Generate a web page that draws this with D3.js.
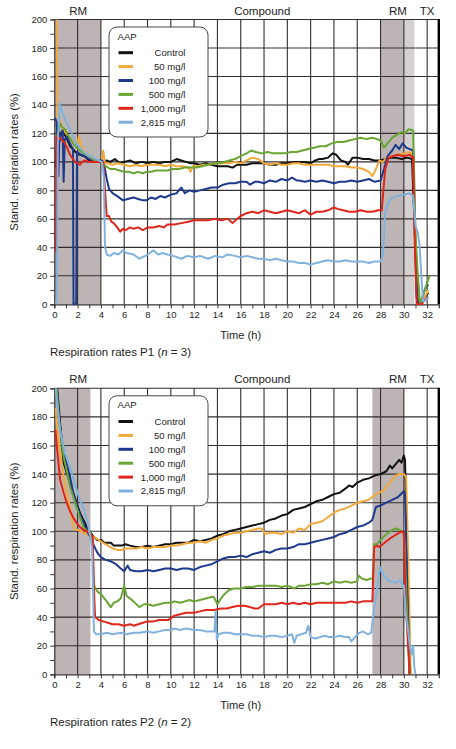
<!DOCTYPE html>
<html><head><meta charset="utf-8">
<script src="https://cdn.jsdelivr.net/npm/d3@7"></script>
<style>
body{margin:0;background:#fff;}
svg{display:block;font-family:"Liberation Sans",Arial,Helvetica,sans-serif;}
</style>
</head><body>
<svg id="chart" width="456" height="749"></svg>
<script>
// ---------- data ----------
const seriesNames = ["Control", "50 mg/l", "100 mg/l", "500 mg/l", "1,000 mg/l", "2,815 mg/l"];
const seriesColors = ["#111111", "#f2a93b", "#1d3a8c", "#68a532", "#e0261b", "#80b2dd"];
const legendTitle = "AAP";
const xTickValues = [0,2,4,6,8,10,12,14,16,18,20,22,24,26,28,30,32];
const yTickValues = [0,20,40,60,80,100,120,140,160,180,200];
const phaseLabels = ["RM", "Compound", "RM", "TX"];
const phaseLabelTimes = [2.05, 17.85, 29.5, 32.0];

// Panel P1 (n = 3)
const p1Shading = [[0, 4, 0], [28, 30, 0], [30, 30.9, 1]];
const p1Control = [[0.12,96],[0.15,101],[0.3,125],[0.5,118],[0.7,122],[0.9,119],[1.1,116],[1.35,111],[1.6,109],[1.8,107],[2.2,105],[2.6,104],[3.0,101],[3.35,100],[3.8,100],[4.2,100],[4.5,101],[4.8,100],[5.2,102],[5.6,99],[6.0,100],[6.5,101],[7.0,99],[7.5,100],[8.0,99],[8.5,100],[9.0,99],[9.5,100],[10.0,100],[10.5,102],[10.9,101],[11.3,100],[11.7,99],[12.0,99],[12.5,98],[13.0,99],[13.5,98],[14.0,97],[14.5,97],[14.9,97],[15.3,96],[15.7,98],[16.0,98],[16.5,98],[17.0,99],[17.5,99],[18.0,99],[18.5,98],[19.0,98],[19.5,99],[20.0,99],[20.5,100],[21.0,100],[21.4,100],[22.0,99],[22.4,101],[22.7,102],[23.0,102],[23.5,103],[23.9,106],[24.2,105],[24.6,101],[25.0,100],[25.2,98],[25.6,103],[26.0,103],[26.5,102],[27.0,102],[27.5,101],[28.0,101],[28.4,102],[28.8,103],[29.3,103],[29.8,102],[30.3,103],[30.7,102],[30.9,60],[31.1,5],[31.3,0],[31.6,3],[31.9,6],[32.1,8]];
const p1Aap50 = [[0.15,200],[0.2,200],[0.28,132],[0.5,128],[0.77,123],[1.0,120],[1.35,116],[1.7,114],[2.0,113],[2.1,118],[2.3,112],[2.5,108],[2.8,104],[3.1,102],[3.4,100],[3.8,100],[4.1,101],[4.2,108],[4.35,99],[4.6,99],[5.0,98],[5.5,99],[6.0,98],[6.5,97],[7.0,98],[7.5,97],[8.0,98],[8.5,98],[9.0,98],[9.5,97],[10.0,98],[10.5,97],[11.0,97],[11.5,96],[11.7,93],[11.9,97],[12.3,97],[12.8,98],[13.2,98],[13.8,99],[14.5,99],[15.0,99],[15.5,100],[16.0,99],[16.5,101],[17.0,103],[17.5,102],[18.0,99],[18.5,98],[19.0,99],[19.5,98],[20.0,98],[20.5,99],[21.0,99],[21.5,98],[22.0,98],[22.5,98],[23.0,98],[23.5,98],[24.0,97],[24.5,97],[25.0,97],[25.5,96],[26.0,96],[26.5,95],[27.0,93],[27.3,90],[27.6,95],[27.9,101],[28.2,100],[28.5,103],[29.0,104],[29.5,105],[30.0,106],[30.5,107],[30.8,104],[31.0,40],[31.2,5],[31.5,0],[31.8,5],[32.1,10]];
const p1Aap100 = [[0.06,131],[0.2,128],[0.3,110],[0.35,90],[0.42,113],[0.6,120],[0.72,122],[0.8,86],[0.9,116],[1.1,118],[1.35,113],[1.6,109],[1.65,0],[1.88,0],[1.95,107],[2.3,105],[2.6,104],[3.0,102],[3.35,100],[3.8,101],[4.1,101],[4.3,97],[4.5,88],[4.7,81],[5.0,78],[5.4,76],[5.9,73],[6.3,74],[6.8,75],[7.2,74],[7.6,73],[7.9,73],[8.3,75],[8.7,74],[9.1,76],[9.5,75],[10.0,77],[10.5,78],[10.9,82],[11.2,78],[11.6,80],[12.0,79],[12.5,80],[13.0,81],[13.5,82],[14.0,82],[14.5,84],[15.0,85],[15.5,85],[16.0,86],[16.5,86],[16.8,84],[17.2,86],[17.5,86],[18.0,85],[18.5,87],[19.0,86],[19.5,88],[20.0,87],[20.4,89],[20.8,87],[21.0,87],[21.5,86],[22.0,87],[22.5,86],[23.0,87],[23.5,86],[24.0,85],[24.5,86],[25.0,86],[25.5,87],[26.0,86],[26.5,87],[27.0,88],[27.5,86],[28.0,87],[28.3,95],[28.6,104],[29.0,108],[29.3,112],[29.6,109],[29.9,113],[30.2,110],[30.5,109],[30.8,108],[31.0,40],[31.2,0],[31.5,0],[31.7,8],[31.9,12],[32.1,14]];
const p1Aap500 = [[0.25,118],[0.5,127],[0.7,124],[0.92,123],[1.15,119],[1.35,117],[1.6,113],[1.92,110],[2.2,108],[2.5,106],[2.8,105],[3.06,104],[3.5,101],[4.1,99],[4.4,97],[4.8,95],[5.2,95],[5.6,94],[6.0,93],[6.4,93],[6.8,92],[7.2,93],[7.6,92],[7.9,93],[8.3,93],[8.7,94],[9.1,94],[9.7,94],[10.2,95],[10.7,95],[11.2,96],[11.7,96],[12.2,96],[12.7,97],[13.2,98],[13.7,99],[14.2,99],[14.6,100],[15.0,101],[15.5,102],[16.0,104],[16.5,106],[16.9,108],[17.3,107],[17.8,106],[18.3,107],[18.8,106],[19.3,106],[19.8,106],[20.3,107],[20.8,107],[21.3,108],[21.8,109],[22.3,110],[22.8,111],[23.3,111],[23.8,113],[24.3,114],[24.8,114],[25.3,115],[25.8,116],[26.3,117],[26.8,116],[27.3,117],[27.7,116],[28.0,115],[28.3,110],[28.6,113],[29.0,117],[29.4,119],[29.8,121],[30.1,120],[30.4,123],[30.8,122],[31.0,50],[31.2,20],[31.4,0],[31.7,8],[32.0,15],[32.2,20]];
const p1Aap1000 = [[0.08,37],[0.15,37],[0.18,118],[0.3,116],[0.49,117],[0.7,115],[0.92,113],[1.15,109],[1.35,105],[1.6,102],[1.78,100],[2.0,99],[2.2,98],[2.4,100],[2.6,101],[3.0,100],[3.35,100],[3.8,100],[4.2,100],[4.35,80],[4.5,62],[4.7,62],[4.9,58],[5.1,57],[5.4,54],[5.65,51],[5.9,53],[6.1,52],[6.5,54],[6.8,53],[7.2,54],[7.6,52],[8.0,54],[8.5,54],[9.0,55],[9.4,54],[9.7,56],[10.3,56],[10.9,57],[11.5,58],[12.0,59],[12.5,59],[13.2,59],[13.8,60],[14.3,59],[14.9,60],[15.3,57],[15.7,60],[16.0,62],[16.5,64],[17.0,65],[17.5,64],[18.0,66],[18.5,65],[19.0,64],[19.5,65],[20.0,66],[20.5,65],[21.0,64],[21.5,66],[22.0,63],[22.5,65],[23.0,65],[23.5,66],[24.0,68],[24.3,67],[24.8,66],[25.3,65],[25.8,65],[26.3,66],[26.8,65],[27.3,65],[27.8,66],[28.1,66],[28.4,95],[28.7,103],[29.0,104],[29.5,105],[30.0,104],[30.5,105],[30.8,103],[30.95,40],[31.1,0],[31.5,0],[31.8,3],[32.1,5]];
const p1Aap2815 = [[0.15,0],[0.22,5],[0.3,110],[0.45,141],[0.6,137],[0.92,130],[1.15,126],[1.35,123],[1.6,118],[1.78,114],[2.0,112],[2.2,110],[2.5,107],[2.8,105],[3.1,104],[3.35,103],[3.8,101],[4.1,100],[4.25,90],[4.35,40],[4.5,35],[4.8,34],[5.1,36],[5.5,35],[5.9,38],[6.2,36],[6.8,35],[7.3,32],[7.8,34],[8.2,36],[8.5,38],[8.9,35],[9.3,36],[9.7,35],[10.2,34],[10.9,32],[11.4,34],[12.0,33],[12.5,34],[13.2,32],[13.8,34],[14.4,33],[14.9,35],[15.5,34],[16.0,33],[16.5,34],[17.0,33],[17.5,32],[18.0,32],[18.5,31],[19.0,32],[19.5,31],[20.0,30],[20.5,30],[21.0,29],[21.5,29],[22.0,28],[22.5,29],[23.0,30],[23.5,31],[24.0,30],[24.5,30],[25.0,31],[25.5,30],[26.0,30],[26.5,30],[27.0,29],[27.5,30],[28.0,30],[28.2,35],[28.4,65],[28.7,72],[29.0,75],[29.5,76],[30.0,77],[30.5,78],[30.8,76],[31.0,55],[31.2,50],[31.35,42],[31.5,20],[31.65,2],[31.9,3],[32.1,5]];

// Panel P2 (n = 2)
const p2Shading = [[0, 3.1, 0], [27.3, 30.0, 0]];
const p2Control = [[0.2,205],[0.5,175],[0.8,148],[1.1,140],[1.35,134],[1.6,127],[1.9,120],[2.2,113],[2.5,108],[2.8,103],[3.1,99],[3.4,96],[3.7,94],[4.0,94],[4.3,92],[4.6,92],[4.85,92],[5.1,90],[5.4,90],[5.8,90],[6.1,91],[6.5,90],[7.0,89],[7.5,89],[8.0,90],[8.5,89],[9.0,90],[9.5,91],[10.0,91],[10.5,92],[11.0,92],[11.5,92],[12.0,94],[12.5,93],[13.0,94],[13.5,95],[14.0,97],[14.5,98],[15.0,100],[15.5,101],[16.0,102],[16.5,103],[17.0,104],[17.5,105],[18.0,106],[18.5,108],[19.0,109],[19.5,111],[20.0,112],[20.5,115],[21.0,116],[21.5,117],[22.0,119],[22.5,121],[23.0,122],[23.5,124],[24.0,126],[24.5,127],[25.0,130],[25.3,132],[25.6,131],[26.0,134],[26.5,136],[27.0,137],[27.5,139],[28.0,140],[28.5,142],[28.8,146],[29.0,144],[29.3,147],[29.6,150],[29.8,148],[30.0,153],[30.1,150],[30.3,80],[30.5,0]];
const p2Aap50 = [[0.1,186],[0.4,160],[0.8,138],[1.1,126],[1.35,117],[1.6,104],[1.8,101],[2.0,101],[2.3,100],[2.5,99],[2.8,98],[3.1,97],[3.4,96],[3.8,94],[4.2,92],[4.6,90],[5.0,88],[5.4,87],[5.8,87],[6.1,88],[6.5,88],[7.0,88],[7.5,89],[8.0,88],[8.5,89],[9.0,89],[9.5,89],[10.0,90],[10.5,90],[11.0,91],[11.5,92],[12.0,92],[12.5,93],[13.0,92],[13.5,94],[14.0,95],[14.5,97],[15.0,98],[15.5,99],[16.0,99],[16.5,100],[17.0,101],[17.5,102],[17.8,102],[18.1,98],[18.5,99],[19.0,99],[19.5,98],[20.0,100],[20.5,99],[21.0,102],[21.5,101],[22.0,105],[22.5,106],[23.0,107],[23.5,110],[24.0,113],[24.5,115],[25.0,116],[25.5,118],[26.0,120],[26.5,121],[27.0,122],[27.3,124],[27.6,126],[27.9,127],[28.2,128],[28.6,132],[29.0,136],[29.3,139],[29.6,140],[30.0,140],[30.2,138],[30.35,90],[30.6,0]];
const p2Aap100 = [[0.15,205],[0.4,180],[0.8,155],[1.1,146],[1.35,138],[1.6,128],[1.9,120],[2.2,112],[2.5,106],[2.8,100],[3.1,96],[3.4,90],[3.7,85],[4.0,82],[4.4,80],[4.85,79],[5.3,77],[5.7,74],[6.0,72],[6.3,76],[6.5,73],[7.0,72],[7.5,72],[8.0,73],[8.5,72],[9.0,73],[9.5,74],[10.0,74],[10.5,73],[11.0,74],[11.5,74],[12.0,73],[12.5,75],[13.0,76],[13.5,77],[14.0,79],[14.5,81],[15.0,82],[15.5,82],[16.0,83],[16.5,82],[17.0,84],[17.5,85],[18.0,86],[18.5,85],[19.0,87],[19.5,88],[20.0,88],[20.5,89],[21.0,91],[21.5,91],[22.0,92],[22.5,93],[23.0,94],[23.5,95],[24.0,96],[24.5,98],[25.0,99],[25.5,101],[26.0,103],[26.5,104],[27.0,106],[27.3,108],[27.6,117],[28.0,118],[28.5,120],[29.0,122],[29.5,124],[30.0,128],[30.1,126],[30.3,60],[30.5,0]];
const p2Aap500 = [[0.15,205],[0.4,178],[0.8,152],[1.1,141],[1.35,131],[1.6,125],[1.9,117],[2.2,110],[2.5,103],[2.8,100],[3.1,99],[3.25,95],[3.4,62],[3.7,58],[4.0,56],[4.4,52],[4.85,47],[5.1,50],[5.4,51],[5.7,53],[6.0,62],[6.2,55],[6.5,53],[6.8,51],[7.3,47],[7.7,49],[8.0,49],[8.5,48],[9.0,49],[9.5,50],[10.0,50],[10.3,51],[10.8,50],[11.2,51],[11.6,52],[12.0,51],[12.5,52],[13.0,53],[13.5,54],[13.7,54],[14.0,49],[14.3,53],[14.6,56],[15.0,59],[15.4,60],[16.0,60],[16.5,61],[17.0,61],[17.5,62],[18.0,62],[18.5,62],[19.0,62],[19.5,61],[20.0,62],[20.6,60],[21.0,62],[21.5,62],[22.0,63],[22.5,63],[23.0,64],[23.5,63],[24.0,65],[24.5,64],[25.0,65],[25.5,64],[26.0,65],[26.1,69],[26.4,67],[26.8,66],[27.2,67],[27.35,67],[27.45,91],[27.7,91],[28.0,94],[28.5,98],[29.0,101],[29.4,102],[29.8,100],[30.0,98],[30.2,60],[30.5,0]];
const p2Aap1000 = [[0.1,171],[0.2,161],[0.5,136],[0.8,127],[1.06,120],[1.35,114],[1.6,110],[1.9,106],[2.2,103],[2.5,101],[2.8,100],[3.1,98],[3.3,96],[3.4,60],[3.5,40],[3.8,38],[4.2,37],[4.6,36],[5.0,35],[5.5,35],[6.0,34],[6.5,35],[6.8,34],[7.2,35],[7.6,36],[8.0,37],[8.5,37],[9.0,38],[9.5,38],[9.8,38],[10.3,41],[10.8,42],[11.3,43],[12.0,43],[12.5,44],[13.0,45],[13.7,45],[14.3,46],[14.8,46],[15.3,47],[15.8,48],[16.3,48],[16.8,47],[17.2,46],[17.5,46],[18.0,49],[18.5,49],[19.0,49],[19.5,50],[20.0,49],[20.5,50],[21.0,49],[21.5,50],[22.0,49],[22.5,50],[23.0,50],[23.5,50],[24.0,50],[24.5,50],[25.0,50],[25.5,51],[26.0,50],[26.5,51],[27.0,51],[27.3,51],[27.45,89],[27.7,90],[27.9,89],[28.2,91],[28.5,93],[29.0,96],[29.4,98],[29.8,100],[30.0,99],[30.15,50],[30.5,0]];
const p2Aap2815 = [[0.05,205],[0.49,171],[0.9,155],[1.35,145],[1.8,132],[2.2,122],[2.5,116],[2.8,108],[3.1,96],[3.25,88],[3.4,30],[3.6,28],[4.0,28],[4.5,29],[5.0,28],[5.7,29],[6.2,28],[6.8,29],[7.3,29],[8.0,30],[8.5,29],[9.0,30],[9.5,31],[10.0,31],[10.3,32],[10.8,31],[11.3,32],[12.0,31],[12.5,31],[13.0,30],[13.5,30],[13.75,30],[13.85,44],[13.95,24],[14.1,28],[14.5,29],[15.0,29],[15.5,28],[16.0,28],[16.5,28],[17.0,27],[17.5,27],[18.0,26],[18.5,27],[19.0,27],[19.5,26],[20.0,27],[20.4,28],[20.6,22],[20.8,27],[21.2,28],[21.6,29],[21.8,34],[22.0,26],[22.4,25],[22.8,26],[23.2,27],[23.6,26],[24.0,26],[24.5,27],[25.0,26],[25.3,26],[25.5,23],[25.8,26],[26.2,29],[26.5,30],[26.9,28],[27.2,29],[27.4,43],[27.7,60],[27.95,75],[28.2,70],[28.4,68],[28.7,65],[29.0,65],[29.3,64],[29.7,66],[29.85,63],[30.0,62],[30.2,40],[30.4,28],[30.55,18],[30.7,14],[30.8,20],[30.9,5],[31.0,0]];

const p1Series = [p1Control, p1Aap50, p1Aap100, p1Aap500, p1Aap1000, p1Aap2815];
const p2Series = [p2Control, p2Aap50, p2Aap100, p2Aap500, p2Aap1000, p2Aap2815];

// ---------- drawing ----------
const svg = d3.select("#chart");
const shadeColors = ["#bdb5b5", "#d5d0d0"];
const gridColor = "#352e2e";
const textColor = "#1e1e1e";
const X_LEFT = 54.3, X_RIGHT = 438.8;

function drawPanel(top, bottom, shading, series, footerPanel, footerN, idx) {
  const x = d3.scaleLinear().domain([0, 33]).range([X_LEFT, X_RIGHT]);
  const y = d3.scaleLinear().domain([0, 200]).range([bottom, top]);
  const g = svg.append("g");

  // shading
  g.selectAll("rect.shade").data(shading).join("rect")
    .attr("x", d => x(d[0])).attr("width", d => x(d[1]) - x(d[0]))
    .attr("y", top).attr("height", bottom - top)
    .attr("fill", d => shadeColors[d[2]]);

  // grid
  g.selectAll("line.hg").data(yTickValues.filter(v => v > 0)).join("line")
    .attr("x1", X_LEFT).attr("x2", X_RIGHT)
    .attr("y1", d => y(d)).attr("y2", d => y(d))
    .attr("stroke", gridColor).attr("stroke-width", 1.1);
  g.selectAll("line.vg").data(xTickValues.filter(v => v > 0)).join("line")
    .attr("x1", d => x(d)).attr("x2", d => x(d))
    .attr("y1", top).attr("y2", bottom)
    .attr("stroke", gridColor).attr("stroke-width", 1.1);

  // axes
  const yAxis = d3.axisLeft(y).tickValues(d3.range(0, 201, 10)).tickSize(4)
    .tickFormat(d => yTickValues.includes(d) ? d : "");
  const ya = g.append("g").attr("transform", `translate(${X_LEFT},0)`).call(yAxis);
  const xAxis = d3.axisBottom(x).tickValues(d3.range(0, 33, 1)).tickSize(4)
    .tickFormat(d => xTickValues.includes(d) ? d : "");
  const xa = g.append("g").attr("transform", `translate(0,${bottom})`).call(xAxis);
  [ya, xa].forEach(a => {
    a.select(".domain").attr("stroke", "#3a3333").attr("stroke-width", 1.2);
    a.selectAll(".tick line").attr("stroke", "#3a3333").attr("stroke-width", 1);
    a.selectAll("text").attr("fill", textColor).attr("font-size", "9.5px")
      .attr("font-family", '"Liberation Sans",Arial,sans-serif');
  });
  ya.selectAll("text").attr("x", -7);
  xa.selectAll("text").attr("y", 7);

  // data lines
  const clipId = "clip" + idx;
  svg.append("clipPath").attr("id", clipId).append("rect")
    .attr("x", X_LEFT).attr("y", top).attr("width", X_RIGHT - X_LEFT).attr("height", bottom - top + 1);
  const line = d3.line().x(d => x(d[0])).y(d => y(d[1]));
  g.append("g").attr("clip-path", `url(#${clipId})`)
    .selectAll("path").data(series).join("path")
    .attr("d", line).attr("fill", "none")
    .attr("stroke", (d, i) => seriesColors[i])
    .attr("stroke-width", 2).attr("stroke-linejoin", "round");

  // right thick border
  g.append("line").attr("x1", X_RIGHT).attr("x2", X_RIGHT).attr("y1", top - 0.5).attr("y2", bottom)
    .attr("stroke", "#000").attr("stroke-width", 2.4);

  // phase labels
  g.selectAll("text.phase").data(phaseLabels).join("text")
    .attr("x", (d, i) => x(phaseLabelTimes[i])).attr("y", top - 5)
    .attr("text-anchor", "middle").attr("font-size", "11.5px").attr("fill", textColor)
    .text(d => d);

  // y label
  g.append("text")
    .attr("transform", `translate(18,${(top + bottom) / 2}) rotate(-90)`)
    .attr("text-anchor", "middle").attr("font-size", "11.3px").attr("fill", textColor)
    .text("Stand. respiration rates (%)");

  // x label
  g.append("text").attr("x", 240.7).attr("y", bottom + 34.7)
    .attr("text-anchor", "middle").attr("font-size", "11.1px").attr("fill", textColor)
    .text("Time (h)");

  // footer caption
  const f = g.append("text").attr("x", 50).attr("y", bottom + 51.7)
    .attr("font-size", "11.5px").attr("fill", textColor);
  f.append("tspan").text(`Respiration rates ${footerPanel} (`);
  f.append("tspan").attr("font-style", "italic").text("n");
  f.append("tspan").text(` = ${footerN})`);

  // legend
  const lg = g.append("g");
  lg.append("rect").attr("x", 109).attr("y", top + 7.5).attr("width", 99).attr("height", 110)
    .attr("rx", 8).attr("fill", "#fff").attr("stroke", "#4a4444").attr("stroke-width", 1);
  lg.append("text").attr("x", 117.5).attr("y", top + 20).attr("font-size", "9.6px")
    .attr("fill", textColor).text(legendTitle);
  const rows = lg.selectAll("g.row").data(seriesNames).join("g")
    .attr("transform", (d, i) => `translate(0,${top + 33.2 + i * 13.9})`);
  rows.append("line").attr("x1", 118.5).attr("x2", 133).attr("y1", 0).attr("y2", 0)
    .attr("stroke", (d, i) => seriesColors[i]).attr("stroke-width", 3);
  rows.append("text").attr("x", 185.5).attr("y", 3.4).attr("text-anchor", "end")
    .attr("font-size", "9.6px").attr("fill", textColor).text(d => d);
}

drawPanel(19.5, 304.3, p1Shading, p1Series, "P1", 3, 1);
drawPanel(388.3, 674.3, p2Shading, p2Series, "P2", 2, 2);
</script>
</body></html>
